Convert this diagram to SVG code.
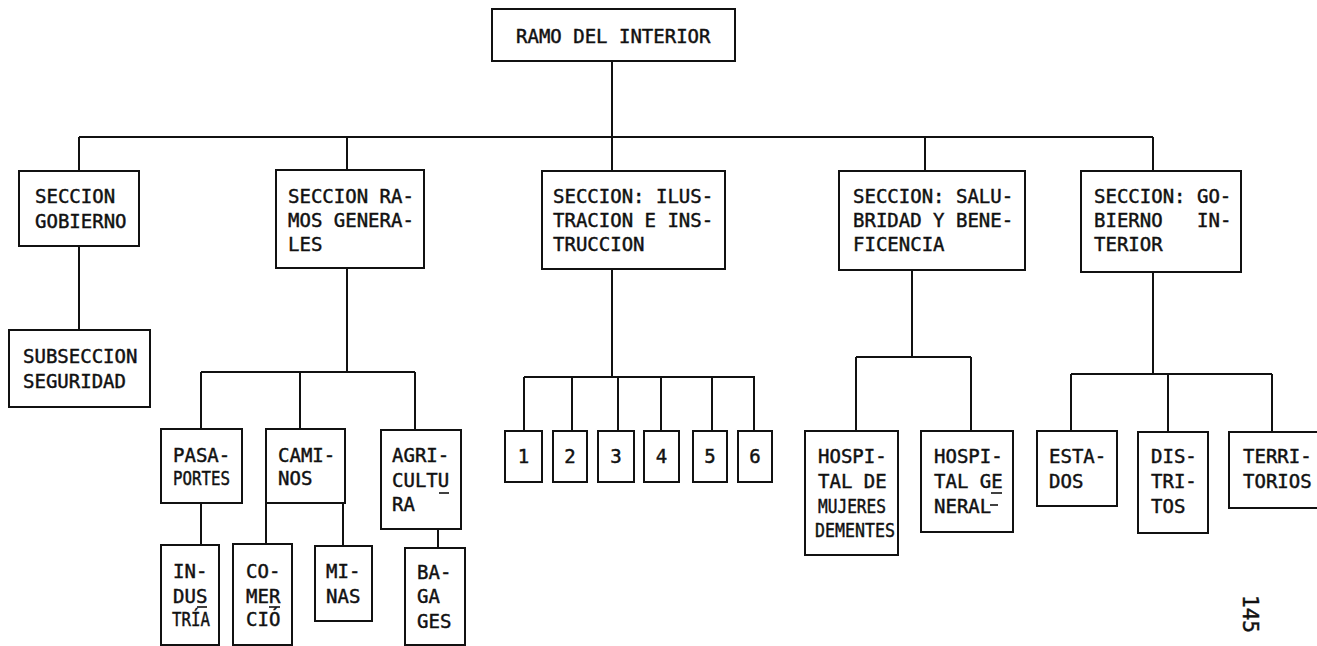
<svg xmlns="http://www.w3.org/2000/svg" width="1317" height="646" viewBox="0 0 1317 646">
<style>
.box{fill:#fff;stroke:#111;stroke-width:2}
.t{font-family:"DejaVu Sans Mono","Liberation Mono",monospace;font-size:19px;fill:#111;stroke:#111;stroke-width:0.45}
.c{stroke:#111;stroke-width:2;fill:none}
.u{stroke:#111;stroke-width:1.6}
.n{text-anchor:middle}
</style>
<rect width="1317" height="646" fill="#fff"/>
<g id="connectors">
<path class="c" d="M612 61V137M79 137H1153M79 137V171M347 137V170M612 137V171M925 137V171M1153 137V171"/>
<path class="c" d="M79 246V330"/>
<path class="c" d="M347 268V372M201 372H415M201 372V429M300 372V429M415 372V430M201 503V545M266 503V544M343 503V546M438 529V548"/>
<path class="c" d="M612 269V377M524 377H755M524 377V431M572 377V431M618 377V431M661 377V431M712 377V431M754 377V431"/>
<path class="c" d="M912 270V357M856 357H971M856 357V431M971 357V431"/>
<path class="c" d="M1153 272V374M1071 374H1272M1071 374V431M1168 374V432M1272 374V432"/>
</g>
<g id="ramo-interior"><rect class="box" x="492" y="9" width="243" height="52"/><text class="t" x="516" y="43">RAMO DEL INTERIOR</text></g>
<g id="seccion-gobierno"><rect class="box" x="19" y="171" width="120" height="75"/><text class="t" x="35" y="203">SECCION</text><text class="t" x="35" y="228">GOBIERNO</text></g>
<g id="seccion-ramos"><rect class="box" x="276" y="170" width="148" height="98"/><text class="t" x="288" y="203">SECCION RA-</text><text class="t" x="288" y="227">MOS GENERA-</text><text class="t" x="288" y="251">LES</text></g>
<g id="seccion-ilustracion"><rect class="box" x="542" y="171" width="183" height="98"/><text class="t" x="553" y="203">SECCION: ILUS-</text><text class="t" x="553" y="227">TRACION E INS-</text><text class="t" x="553" y="251">TRUCCION</text></g>
<g id="seccion-salubridad"><rect class="box" x="839" y="171" width="186" height="99"/><text class="t" x="853" y="203">SECCION: SALU-</text><text class="t" x="853" y="227">BRIDAD Y BENE-</text><text class="t" x="853" y="251">FICENCIA</text></g>
<g id="seccion-gobierno-interior"><rect class="box" x="1081" y="171" width="160" height="101"/><text class="t" x="1094" y="203">SECCION: GO-</text><text class="t" x="1094" y="227">BIERNO<tspan x="1197">IN-</tspan></text><text class="t" x="1094" y="251">TERIOR</text></g>
<g id="subseccion-seguridad"><rect class="box" x="9" y="330" width="141" height="77"/><text class="t" x="23" y="363">SUBSECCION</text><text class="t" x="23" y="388">SEGURIDAD</text></g>
<g id="pasaportes"><rect class="box" x="161" y="429" width="81" height="74"/><text class="t" x="173" y="462">PASA-</text><text class="t" x="173" y="485" textLength="57" lengthAdjust="spacingAndGlyphs">PORTES</text></g>
<g id="caminos"><rect class="box" x="266" y="429" width="79" height="74"/><text class="t" x="278" y="462">CAMI-</text><text class="t" x="278" y="485">NOS</text></g>
<g id="agricultura"><rect class="box" x="381" y="430" width="80" height="99"/><text class="t" x="392" y="462">AGRI-</text><text class="t" x="392" y="487">CULTU</text><line class="u" x1="439" y1="493" x2="449" y2="493"/><text class="t" x="392" y="511">RA</text></g>
<g id="industria"><rect class="box" x="161" y="545" width="58" height="100"/><text class="t" x="173" y="578">IN-</text><text class="t" x="173" y="603">DUS</text><line class="u" x1="197" y1="607" x2="207" y2="607"/><text class="t" x="172" y="626" textLength="38" lengthAdjust="spacingAndGlyphs">TRÍA</text></g>
<g id="comercio"><rect class="box" x="233" y="544" width="59" height="101"/><text class="t" x="246" y="578">CO-</text><text class="t" x="246" y="603">MER</text><line class="u" x1="269" y1="607" x2="280" y2="607"/><text class="t" x="246" y="626">CIÓ</text></g>
<g id="minas"><rect class="box" x="315" y="546" width="57" height="75"/><text class="t" x="326" y="578">MI-</text><text class="t" x="326" y="603">NAS</text></g>
<g id="bagages"><rect class="box" x="405" y="548" width="60" height="97"/><text class="t" x="417" y="579">BA-</text><text class="t" x="417" y="603">GA</text><text class="t" x="417" y="628">GES</text></g>
<g id="n1"><rect class="box" x="505" y="431" width="37" height="51"/><text class="t n" x="523.5" y="463">1</text></g>
<g id="n2"><rect class="box" x="553" y="431" width="34" height="51"/><text class="t n" x="570" y="463">2</text></g>
<g id="n3"><rect class="box" x="598" y="431" width="36" height="51"/><text class="t n" x="616" y="463">3</text></g>
<g id="n4"><rect class="box" x="644" y="431" width="35" height="51"/><text class="t n" x="661.5" y="463">4</text></g>
<g id="n5"><rect class="box" x="693" y="431" width="34" height="51"/><text class="t n" x="710" y="463">5</text></g>
<g id="n6"><rect class="box" x="738" y="431" width="34" height="51"/><text class="t n" x="755" y="463">6</text></g>
<g id="hospital-mujeres"><rect class="box" x="805" y="431" width="93" height="124"/><text class="t" x="818" y="463">HOSPI-</text><text class="t" x="818" y="488">TAL DE</text><text class="t" x="818" y="513" textLength="68" lengthAdjust="spacingAndGlyphs">MUJERES</text><text class="t" x="815" y="537" textLength="80" lengthAdjust="spacingAndGlyphs">DEMENTES</text></g>
<g id="hospital-general"><rect class="box" x="921" y="431" width="92" height="101"/><text class="t" x="934" y="463">HOSPI-</text><text class="t" x="934" y="488">TAL GE</text><line class="u" x1="991" y1="493" x2="1002" y2="493"/><text class="t" x="934" y="513">NERAL</text><line class="u" x1="990" y1="505" x2="998" y2="505"/></g>
<g id="estados"><rect class="box" x="1037" y="431" width="80" height="75"/><text class="t" x="1049" y="463">ESTA-</text><text class="t" x="1049" y="488">DOS</text></g>
<g id="distritos"><rect class="box" x="1138" y="432" width="70" height="101"/><text class="t" x="1151" y="463">DIS-</text><text class="t" x="1151" y="488">TRI-</text><text class="t" x="1151" y="513">TOS</text></g>
<g id="territorios"><rect class="box" x="1229" y="432" width="100" height="76"/><text class="t" x="1243" y="463">TERRI-</text><text class="t" x="1243" y="488">TORIOS</text></g>
<text class="t" transform="translate(1243,595) rotate(90)" x="0" y="0" style="font-size:21px">145</text>
</svg>
